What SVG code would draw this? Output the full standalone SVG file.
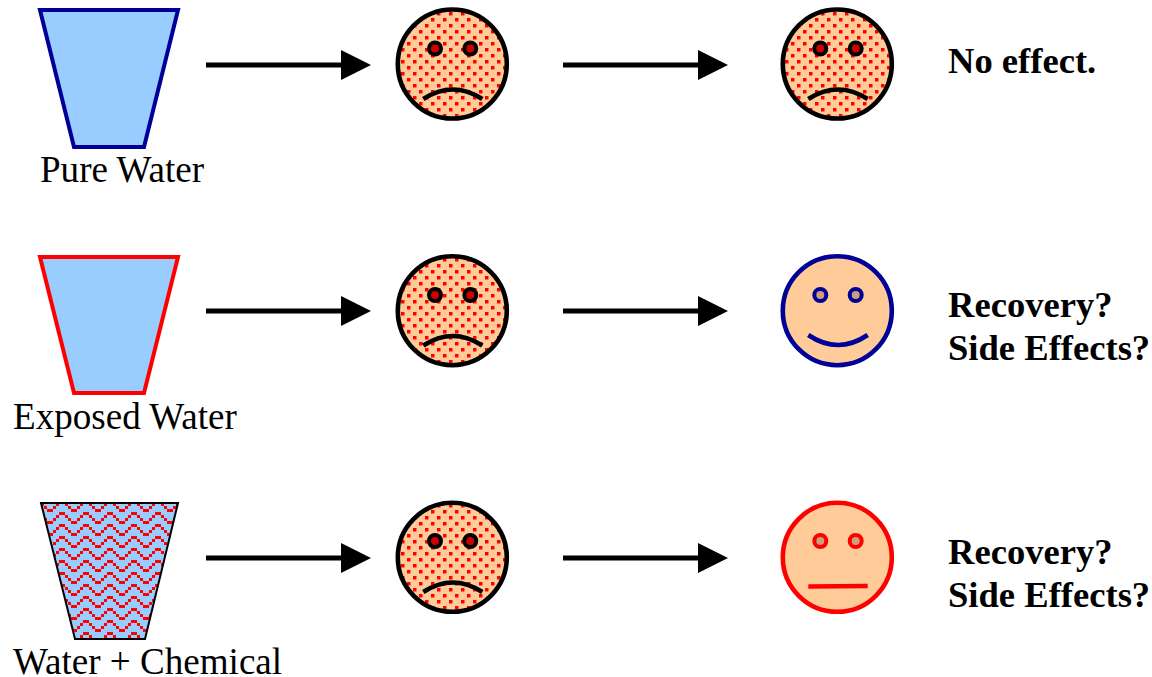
<svg xmlns="http://www.w3.org/2000/svg" width="1152" height="677" viewBox="0 0 1152 677">
<style>
.lbl{font-family:"Liberation Serif","Times New Roman",serif;font-size:37.100px;fill:#000}
.res{font-family:"Liberation Serif","Times New Roman",serif;font-size:36.600px;font-weight:bold;fill:#000}
.conn{stroke:#000;stroke-width:5;fill:none;marker-end:url(#arr)}
.face{stroke-width:4.600}
.mouth{fill:none;stroke-width:4.600}
.eye{stroke-width:4}
.r{fill:#f00;shape-rendering:crispEdges}
.d{fill:#f00}
</style>
<defs>
<marker id="arr" markerUnits="userSpaceOnUse" markerWidth="30" markerHeight="30" refX="0" refY="15" orient="auto"><path d="M0 0L30 15L0 30Z" fill="#000"/></marker>
<pattern id="dots" width="12" height="12" patternUnits="userSpaceOnUse" x="449" y="12">
<rect width="12" height="12" fill="#fc9"/>
<rect class="d" x="0" y="0" width="3.500" height="3.500"/><rect class="d" x="6" y="6" width="3.500" height="3.500"/>
</pattern>
<pattern id="wave" width="24" height="12" patternUnits="userSpaceOnUse" x="83" y="548">
<rect width="24" height="12" fill="#9cf"/>
<rect class="r" x="0" y="0" width="6" height="3"/>
<rect class="r" x="6" y="3" width="3" height="3"/>
<rect class="r" x="9" y="6" width="3" height="3"/>
<rect class="r" x="12" y="9" width="6" height="3"/>
<rect class="r" x="18" y="6" width="3" height="3"/>
<rect class="r" x="21" y="3" width="3" height="3"/>
</pattern>
</defs>
<g id="connectors">
<line class="conn" x1="206" y1="65" x2="341" y2="65"/><line class="conn" x1="563" y1="65" x2="698" y2="65"/>
<line class="conn" x1="206" y1="311" x2="341" y2="311"/><line class="conn" x1="563" y1="311" x2="698" y2="311"/>
<line class="conn" x1="206" y1="558" x2="341" y2="558"/><line class="conn" x1="563" y1="558" x2="698" y2="558"/>
</g>
<g id="cup1"><path d="M40 10H178L144 147H74Z" fill="#9cf" stroke="#009" stroke-width="4"/><text class="lbl" x="40" y="181.500">Pure Water</text></g>
<g id="cup2"><path d="M40 257H178L144 393H74Z" fill="#9cf" stroke="#f00" stroke-width="4"/><text class="lbl" x="13" y="428.500">Exposed Water</text></g>
<g id="cup3"><path d="M41 503H178L145 639H75Z" fill="url(#wave)" stroke="#000" stroke-width="2"/><text class="lbl" x="13" y="674">Water + Chemical</text></g>
<g id="sad1"><circle class="face" cx="452.300" cy="64" r="54.500" fill="url(#dots)" stroke="#000"/><circle class="eye" cx="435" cy="48.500" r="6" fill="#c00" stroke="#000"/><circle class="eye" cx="470.300" cy="48.500" r="6" fill="#c00" stroke="#000"/><path class="mouth" stroke="#000" d="M423.300 99Q452.800 80 482.300 99"/></g>
<g id="sad2"><circle class="face" cx="452.300" cy="310.700" r="54.500" fill="url(#dots)" stroke="#000"/><circle class="eye" cx="435" cy="295" r="6" fill="#c00" stroke="#000"/><circle class="eye" cx="470.300" cy="295" r="6" fill="#c00" stroke="#000"/><path class="mouth" stroke="#000" d="M423.300 345.500Q452.800 326.500 482.300 345.500"/></g>
<g id="sad3"><circle class="face" cx="452.300" cy="557.300" r="54.500" fill="url(#dots)" stroke="#000"/><circle class="eye" cx="435" cy="541" r="6" fill="#c00" stroke="#000"/><circle class="eye" cx="470.300" cy="541" r="6" fill="#c00" stroke="#000"/><path class="mouth" stroke="#000" d="M423.300 592Q452.800 573 482.300 592"/></g>
<g id="sad4"><circle class="face" cx="837.300" cy="64" r="54.500" fill="url(#dots)" stroke="#000"/><circle class="eye" cx="820.300" cy="48.500" r="6" fill="#c00" stroke="#000"/><circle class="eye" cx="855.700" cy="48.500" r="6" fill="#c00" stroke="#000"/><path class="mouth" stroke="#000" d="M808.300 99Q838 80 867.700 99"/></g>
<g id="happy"><circle class="face" cx="837.300" cy="310.700" r="54.500" fill="#fc9" stroke="#009"/><circle class="eye" cx="820.300" cy="295" r="6" fill="#cc9f7a" stroke="#009"/><circle class="eye" cx="855.700" cy="295" r="6" fill="#cc9f7a" stroke="#009"/><path class="mouth" stroke="#009" d="M808.300 335Q838 355 867.700 335"/></g>
<g id="neutral"><circle class="face" cx="837.300" cy="557.300" r="54.500" fill="#fc9" stroke="#f00"/><circle class="eye" cx="820.300" cy="541" r="6" fill="#cc9f7a" stroke="#f00"/><circle class="eye" cx="855.700" cy="541" r="6" fill="#cc9f7a" stroke="#f00"/><path class="mouth" stroke="#f00" d="M808.300 586.500L867.700 586"/></g>
<g id="res1"><text class="res" x="948" y="73">No effect.</text></g>
<g id="res2"><text class="res" x="948" y="317">Recovery?</text><text class="res" x="948" y="360">Side Effects?</text></g>
<g id="res3"><text class="res" x="948" y="564">Recovery?</text><text class="res" x="948" y="607">Side Effects?</text></g>
</svg>
